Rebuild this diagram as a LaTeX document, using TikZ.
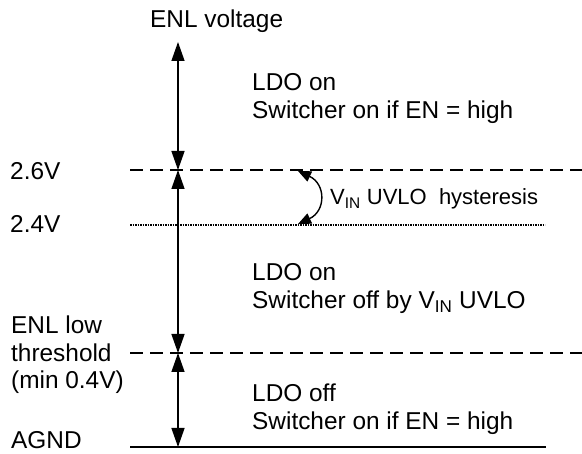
\documentclass[tikz,border=0pt]{standalone}
\usepackage{fontspec}
\setmainfont{Liberation Sans}
\usetikzlibrary{arrows.meta}
\begin{document}
\begin{tikzpicture}[x=1pt,y=-1pt,
  lbl/.style={anchor=base west,inner sep=0pt,font=\fontsize{24.4}{28}\selectfont},
  smalllbl/.style={anchor=base west,inner sep=0pt,font=\fontsize{22}{26}\selectfont},
  dim/.style={line width=1.3pt,{Triangle[length=19pt,width=13pt]}-{Triangle[length=19pt,width=13pt]}},
  levdash/.style={line width=2.4pt,dash pattern=on 13pt off 7pt},
  levdot/.style={line width=2.4pt,dash pattern=on 1.6pt off 0.9pt},
  levsolid/.style={line width=1.6pt},
  hyst/.style={line width=1.4pt,{Triangle[length=13pt,width=11pt]}-{Triangle[length=13pt,width=11pt]}}]
\useasboundingbox (0,0) rectangle (582,454);
% level coordinates
\coordinate (top) at (178,42);
\coordinate (v26) at (178,170);
\coordinate (v24) at (178,225);
\coordinate (thr) at (178,353);
\coordinate (gnd) at (178,447);
\coordinate (l26a) at (130,170);
\coordinate (l26b) at (582,170);
\coordinate (l24a) at (130,225);
\coordinate (l24b) at (545,225);
\coordinate (lthra) at (130,353);
\coordinate (lthrb) at (582,353);
\coordinate (lgnda) at (130,447);
\coordinate (lgndb) at (546,447);
\coordinate (h1) at (298,171);
\coordinate (h2) at (298,224);
% level lines
\draw[levdash] (l26a) -- (l26b);
\draw[levdot] (l24a) -- (l24b);
\draw[levdash] (lthra) -- (lthrb);
\draw[levsolid] (lgnda) -- (lgndb);
% dimension arrows
\draw[dim] (top) -- (v26);
\draw[dim] (v26) -- (thr);
\draw[dim] (thr) -- (gnd);
% hysteresis arrow
\draw[hyst] (h1) .. controls (326,184) and (326,211) .. (h2);
% labels
\node[lbl] (enlv) at (150,28) {ENL voltage};
\node[lbl] (a1) at (252,91) {LDO on};
\node[lbl] (a2) at (252,119) {Switcher on if EN = high};
\node[lbl] (t26) at (10,180) {2.6V};
\node[lbl] (t24) at (10,233) {2.4V};
\node[smalllbl] (hy) at (330,205) {V\textsubscript{IN} UVLO\ \ hysteresis};
\node[lbl] (b1) at (252,281) {LDO on};
\node[lbl] (b2) at (252,309) {Switcher off by V\textsubscript{IN} UVLO};
\node[lbl] (e1) at (11,334) {ENL low};
\node[lbl] (e2) at (11,362) {threshold};
\node[lbl] (e3) at (11,389) {(min 0.4V)};
\node[lbl] (c1) at (252,402) {LDO off};
\node[lbl] (c2) at (252,430) {Switcher on if EN = high};
\node[lbl] (agnd) at (11,449) {AGND};
\end{tikzpicture}
\end{document}
